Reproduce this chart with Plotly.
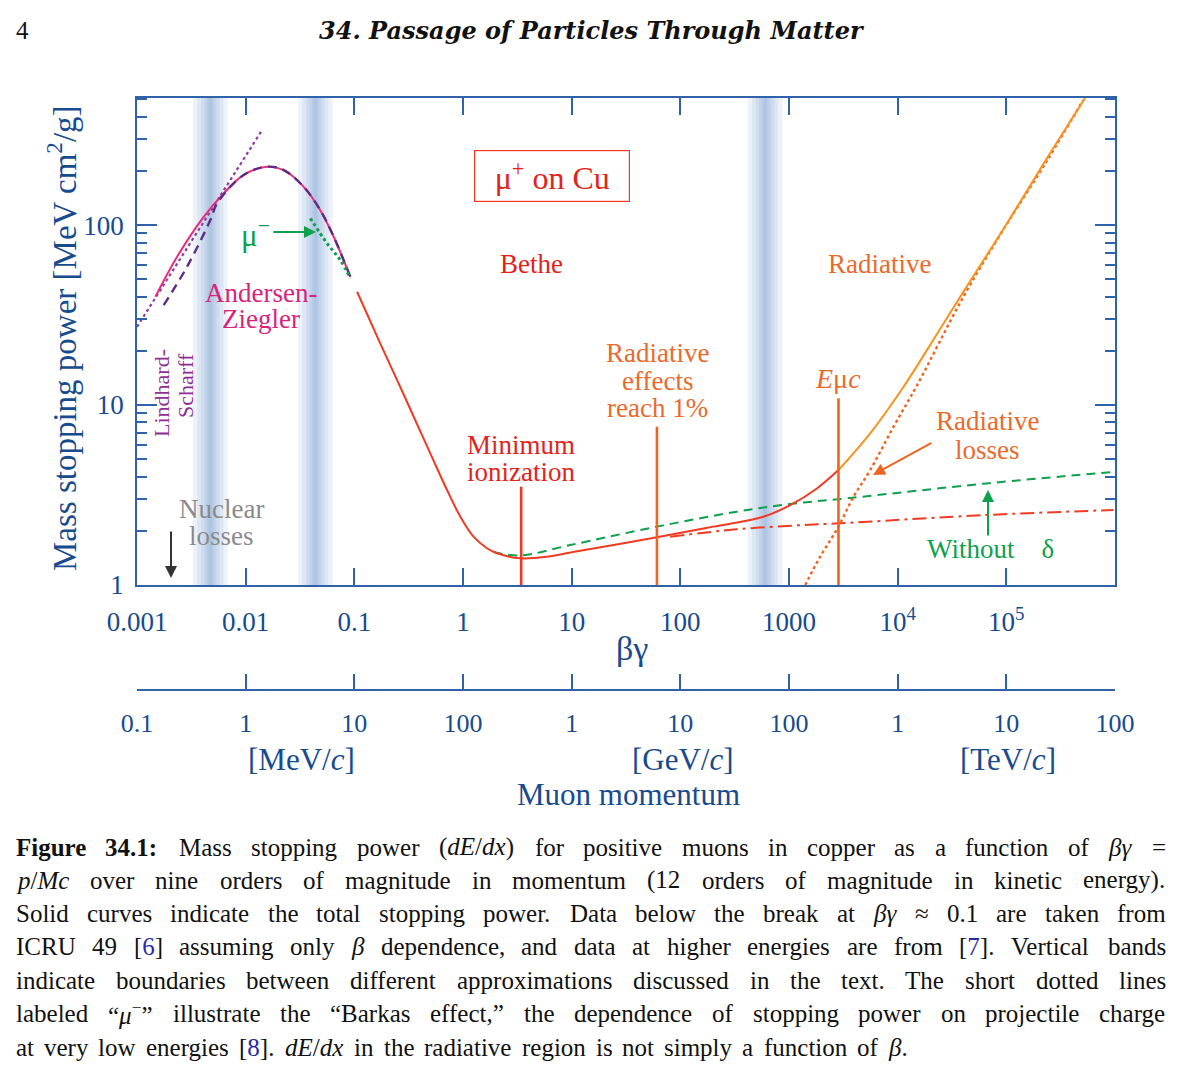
import re
import numpy as np
import plotly.graph_objects as go

W, H = 1183, 1078
SERIF = "Liberation Serif"

# ---------------- data ----------------
# total stopping power, Andersen-Ziegler region (beta*gamma, MeV cm2/g)
az_bg   = [0.001476, 0.00234, 0.00411, 0.00628, 0.0096, 0.01575, 0.0224, 0.0342, 0.0486, 0.0646, 0.0918]
az_dedx = [40.0, 66.7, 111, 150, 190, 211, 202, 163, 121, 86.1, 51.6]
# dashed purple curve under the Andersen-Ziegler one
icru_bg   = [0.00176, 0.00289, 0.00473, 0.00546, 0.0096, 0.01575, 0.0224, 0.0342, 0.0486, 0.0646, 0.0918]
icru_dedx = [35.9, 58.7, 106.6, 132, 190, 211, 202, 163, 121, 86.1, 51.6]
# Lindhard-Scharff (dotted)
ls_bg   = [0.001, 0.01416]
ls_dedx = [27.2, 337]
# mu- (Barkas effect, dotted)
mum_bg   = [0.0394, 0.0561, 0.0743, 0.0918]
mum_dedx = [109, 79.1, 63.9, 50.6]
# Bethe region (solid red)
bethe_bg   = [0.106, 0.173, 0.247, 0.352, 0.500, 0.713, 0.944, 1.25, 1.66, 2.06, 3.37, 5.93, 12.0, 60.9, 201, 582, 1026, 1806, 2852]
bethe_dedx = [42.6, 22.0, 13.8, 8.61, 5.39, 3.37, 2.40, 1.855, 1.60, 1.50, 1.407, 1.436, 1.552, 1.84, 2.11, 2.395, 2.78, 3.44, 4.35]
# radiative region total (solid orange)
rad_bg   = [2852, 5585, 11300, 23070, 40090, 101800, 237000, 531000]
rad_dedx = [4.35, 6.96, 12.6, 24.9, 42.4, 102.6, 235.5, 508]
# radiative losses only (dotted orange)
radloss_bg   = [1409, 1936, 2838, 3920, 5585, 9150, 15100, 40090, 93300, 237000, 509000]
radloss_dedx = [1.0, 1.437, 2.10, 3.09, 4.35, 7.57, 12.9, 39.8, 93.8, 228, 495]
# without density effect (dashed green)
nodelta_bg   = [1.90, 3.37, 9.7, 60.9, 332, 1026, 3410, 66200, 966000]
nodelta_dedx = [1.525, 1.46, 1.668, 2.11, 2.555, 2.82, 3.03, 3.67, 4.25]
# ionization without radiative losses (dash-dot red)
ion_bg   = [80.7, 332, 1359, 2852, 66200, 966000]
ion_dedx = [1.855, 2.04, 2.155, 2.20, 2.45, 2.61]
# vertical markers: minimum ionization, radiative effects 1%, E_muc
marker_bg   = [3.43, 60.9, 2852]
marker_top  = [3.52, 7.58, 10.9]
# centres of the vertical boundary bands
band_bg = [0.00473, 0.0438, 603]

# axes / ticks
bg_tickvals = [1e-3, 1e-2, 0.1, 1, 10, 100, 1000, 1e4, 1e5]
bg_ticklabels = ["0.001", "0.01", "0.1", "1", "10", "100", "1000", "10<sup>4</sup>", "10<sup>5</sup>"]
dedx_tickvals = [1, 10, 100]
dedx_ticklabels = ["1", "10", "100"]
dedx_minor = [2, 3, 4, 5, 6, 7, 8, 9, 20, 30, 40, 50, 60, 70, 80, 90, 200, 300, 400, 500]
mom_tickvals_mev = [0.1, 1, 10, 100, 1e3, 1e4, 1e5, 1e6, 1e7, 1e8]
mom_ticklabels = ["0.1", "1", "10", "100", "1", "10", "100", "1", "10", "100"]
mom_units = ["[MeV/<i>c</i>]", "[GeV/<i>c</i>]", "[TeV/<i>c</i>]"]

BG_RANGE = [-3, 6]
MOM_RANGE = [-1, 8]
Y_RANGE = [0, 2.706]

# ---------------- colours ----------------
RED = "#ef3b23"
RED_TXT = "#e2231a"
ORANGE = "#f7941d"
ORANGE_DK = "#f0641f"
ORANGE_TXT = "#ea6a2c"
GREEN = "#0ca14a"
PINK = "#ed2b7b"
PINK_TXT = "#d9237b"
PURPLE_DOT = "#8e3ca0"
PURPLE_DASH = "#5b2d86"
PURPLE_TXT = "#8e2f94"
GRAY = "#8a8a8a"
AX = "#2f62a8"
BLUE_TXT = "#174b8e"


def px(x):
    return x / W


def py(y):
    return 1 - y / H


fig = go.Figure()

# boundary bands (soft gradient from stacked translucent rectangles)
y_lo, y_hi = 10 ** Y_RANGE[0], 10 ** Y_RANGE[1]
for c in band_bg:
    for hw in [0.16, 0.12, 0.085, 0.055, 0.032, 0.014]:
        xl, xr = c * 10 ** (-hw), c * 10 ** hw
        fig.add_trace(go.Scatter(
            x=[xl, xr, xr, xl, xl], y=[y_lo, y_lo, y_hi, y_hi, y_lo],
            fill="toself", fillcolor="rgba(105,145,205,0.12)", mode="lines",
            line=dict(width=0), hoverinfo="skip"))


def curve(x, y, color, width=2, dash="solid", shape="spline"):
    fig.add_trace(go.Scatter(x=x, y=y, mode="lines", hoverinfo="skip",
                             line=dict(color=color, width=width, dash=dash, shape=shape)))


curve(ls_bg, ls_dedx, PURPLE_DOT, 2.2, "dot", "linear")
curve(az_bg, az_dedx, PINK, 2)
curve(icru_bg, icru_dedx, PURPLE_DASH, 2.4, "9px,6px")
curve(mum_bg, mum_dedx, GREEN, 3, "dot")
curve(nodelta_bg, nodelta_dedx, GREEN, 2, "9px,6px")
curve(ion_bg, ion_dedx, RED, 2, "14px,5px,3px,5px")
curve(radloss_bg, radloss_dedx, ORANGE_DK, 2.4, "dot")
curve(bethe_bg, bethe_dedx, RED, 2)
curve(rad_bg, rad_dedx, ORANGE, 2)

marker_colors = [RED, ORANGE_DK, ORANGE_DK]
for b, t, c in zip(marker_bg, marker_top, marker_colors):
    fig.add_trace(go.Scatter(x=[b, b], y=[1, t], mode="lines", hoverinfo="skip",
                             line=dict(color=c, width=2.6)))

# helper trace on the momentum axis
fig.add_trace(go.Scatter(x=mom_tickvals_mev, y=[1] * len(mom_tickvals_mev), xaxis="x2", yaxis="y",
                         mode="markers", marker=dict(opacity=0, size=1), hoverinfo="skip"))

ann = []


def txt(s, x, y, color, size, angle=0, **kw):
    d = dict(text=s, x=px(x), y=py(y), xref="paper", yref="paper", showarrow=False,
             font=dict(family=SERIF, size=size, color=color), xanchor="center",
             yanchor="middle", textangle=angle)
    d.update(kw)
    ann.append(d)


def arrow(xh, yh, xt, yt, color):
    ann.append(dict(text="", x=px(xh), y=py(yh), xref="paper", yref="paper", showarrow=True,
                    ax=xt - xh, ay=yt - yh, axref="pixel", ayref="pixel", arrowhead=2,
                    arrowsize=1.2, arrowwidth=2, arrowcolor=color, standoff=0))


# in-plot labels
txt("μ<sup>+</sup> on Cu", 552, 176, RED_TXT, 32, bordercolor=RED, borderwidth=1.2,
    width=152, height=48, borderpad=1)
txt("Bethe", 531, 264, RED_TXT, 27)
txt("Radiative", 879, 264, ORANGE_TXT, 27)
for s, yy in zip(["Radiative", "effects", "reach 1%"], [353, 381, 408]):
    txt(s, 657, yy, ORANGE_TXT, 27)
for s, yy in zip(["Minimum", "ionization"], [445, 472]):
    txt(s, 521, yy, RED_TXT, 27)
txt("<i>E</i>μ<i>c</i>", 838, 378, ORANGE_TXT, 28)
for s, yy in zip(["Radiative", "losses"], [421, 450]):
    txt(s, 987, yy, ORANGE_TXT, 27)
arrow(873, 475, 933, 442, ORANGE_DK)
txt("Without\u2003δ", 990, 549, GREEN, 27)
arrow(988, 490, 988, 537, GREEN)
for s, yy in zip(["Nuclear", "losses"], [509, 536]):
    txt(s, 221, yy, GRAY, 27)
arrow(171, 578, 171, 530, "#333333")
for s, yy in zip(["Andersen-", "Ziegler"], [293, 319]):
    txt(s, 261, yy, PINK_TXT, 27)
txt("Lindhard-", 162, 393, PURPLE_TXT, 22, angle=-90)
txt("Scharff", 185, 386, PURPLE_TXT, 22, angle=-90)
txt("μ<sup>−</sup>", 256, 233, GREEN, 31)
arrow(316, 232, 272, 232, GREEN)

# axis titles / momentum axis texts
txt("Mass stopping power [MeV cm<sup>2</sup>/g]", 62, 338, BLUE_TXT, 33, angle=-90)
txt("βγ", 632, 648, BLUE_TXT, 34)
for s, xx in zip(mom_units, [301, 683, 1008]):
    txt(s, xx, 759, BLUE_TXT, 31)
txt("Muon momentum", 628, 794, BLUE_TXT, 31)

# page header
txt("4", 22, 30, "#111111", 25)
txt("<b><i>34. Passage of Particles Through Matter</i></b>", 592, 30, "#111111", 24,
    font=dict(family="DejaVu Serif", size=24, color="#111111"))

# ---------------- caption (justified with Times metrics) ----------------
TW = {' ': 250, '(': 333, ')': 333, ',': 250, '-': 333, '.': 250, '/': 278, ':': 278, ';': 278,
      '=': 564, '[': 333, ']': 333, '%': 833, '“': 444, '”': 444, '≈': 549, 'β': 520, 'γ': 450,
      'μ': 520, '−': 564, 'A': 722, 'B': 667, 'C': 667, 'D': 722, 'E': 611, 'F': 556, 'G': 722,
      'H': 722, 'I': 333, 'J': 389, 'K': 722, 'L': 611, 'M': 889, 'N': 722, 'O': 722, 'P': 556,
      'Q': 722, 'R': 667, 'S': 556, 'T': 611, 'U': 722, 'V': 722, 'W': 944, 'X': 722, 'Y': 722,
      'Z': 611, 'a': 444, 'b': 500, 'c': 444, 'd': 500, 'e': 444, 'f': 333, 'g': 500, 'h': 500,
      'i': 278, 'j': 278, 'k': 500, 'l': 278, 'm': 778, 'n': 500, 'o': 500, 'p': 500, 'q': 500,
      'r': 333, 's': 389, 't': 278, 'u': 500, 'v': 500, 'w': 722, 'x': 500, 'y': 500, 'z': 444}


def text_width(s, fs):
    w = 0.0
    sup = bold = False
    for tok in re.split(r'(<[^>]+>)', s):
        if tok.startswith('<'):
            t = tok.lower()
            if t.startswith('<sup'):
                sup = True
            elif t.startswith('</sup'):
                sup = False
            elif t == '<b>':
                bold = True
            elif t == '</b>':
                bold = False
            continue
        for ch in tok:
            cw = TW.get(ch, 500)
            if bold:
                cw *= 1.07
            if sup:
                cw *= 0.7
            w += cw
    return w * fs / 1000.0


caption_lines = [
    "<b>Figure</b> <b>34.1:</b> Mass stopping power (<i>dE</i>/<i>dx</i>) for positive muons in copper as a function of <i>βγ</i> =",
    "<i>p</i>/<i>Mc</i> over nine orders of magnitude in momentum (12 orders of magnitude in kinetic energy).",
    "Solid curves indicate the total stopping power. Data below the break at <i>βγ</i> ≈ 0.1 are taken from",
    "ICRU 49 [{6}] assuming only <i>β</i> dependence, and data at higher energies are from [{7}]. Vertical bands",
    "indicate boundaries between different approximations discussed in the text. The short dotted lines",
    "labeled “<i>μ</i><sup>−</sup>” illustrate the “Barkas effect,” the dependence of stopping power on projectile charge",
    "at very low energies [{8}]. <i>dE</i>/<i>dx</i> in the radiative region is not simply a function of <i>β</i>.",
]
cap_y = [847, 880, 913, 946, 980, 1013, 1047]
CAP_FS = 25
CAP_L, CAP_R = 15, 1165
for i, (line, yy) in enumerate(zip(caption_lines, cap_y)):
    words = line.split(" ")
    plain = [re.sub(r'\{(\d)\}', r'\1', w) for w in words]
    widths = [text_width(w, CAP_FS) for w in plain]
    space = TW[' '] * CAP_FS / 1000.0
    if i < len(caption_lines) - 1:
        gap = (CAP_R - CAP_L - sum(widths)) / (len(words) - 1)
    else:
        gap = space * 1.6
    xx = CAP_L
    for w, wd in zip(words, widths):
        rendered = re.sub(r'\{(\d)\}', r'<span style="color:#2a2aa8">\1</span>', w)
        ann.append(dict(text=rendered, x=px(xx), y=py(yy), xref="paper", yref="paper",
                        showarrow=False, xanchor="left", yanchor="middle", borderpad=0,
                        font=dict(family=SERIF, size=CAP_FS, color="#111111")))
        xx += wd + gap

tickfont = dict(family=SERIF, size=27, color=BLUE_TXT)

fig.update_layout(
    template="none",
    width=W, height=H, margin=dict(l=0, r=0, t=0, b=0, pad=0, autoexpand=False),
    paper_bgcolor="white", plot_bgcolor="white", showlegend=False, hovermode=False,
    annotations=ann,
    xaxis=dict(type="log", range=BG_RANGE, domain=[137 / W, 1115 / W], anchor="y",
               tickvals=bg_tickvals, ticktext=bg_ticklabels, ticks="inside", ticklen=17,
               tickwidth=1.5, tickcolor=AX, showline=True, linecolor=AX, linewidth=1.5,
               mirror="ticks", showgrid=False, zeroline=False, tickfont=tickfont,
               ticklabelstandoff=12, automargin=False),
    yaxis=dict(type="log", range=Y_RANGE, domain=[py(585), py(98)], anchor="x",
               tickvals=dedx_tickvals, ticktext=dedx_ticklabels, ticks="inside", ticklen=20,
               tickwidth=1.5, tickcolor=AX, showline=True, linecolor=AX, linewidth=1.5,
               mirror="ticks", showgrid=False, zeroline=False, tickfont=tickfont,
               ticklabelstandoff=6, automargin=False,
               minor=dict(tickvals=dedx_minor, ticks="inside", ticklen=10, tickwidth=1.5,
                          tickcolor=AX, showgrid=False)),
    xaxis2=dict(type="log", range=MOM_RANGE, overlaying="x",
                anchor="free", position=py(690), side="bottom",
                tickvals=mom_tickvals_mev, ticktext=mom_ticklabels, ticks="inside", ticklen=15,
                tickwidth=1.5, tickcolor=AX, showline=True, linecolor=AX, linewidth=1.5,
                showgrid=False, zeroline=False, tickfont=dict(family=SERIF, size=26, color=BLUE_TXT),
                ticklabelstandoff=10, automargin=False),
)

fig.write_html("out.html", config={"displayModeBar": False},
               post_script="document.body.style.margin='0';")
